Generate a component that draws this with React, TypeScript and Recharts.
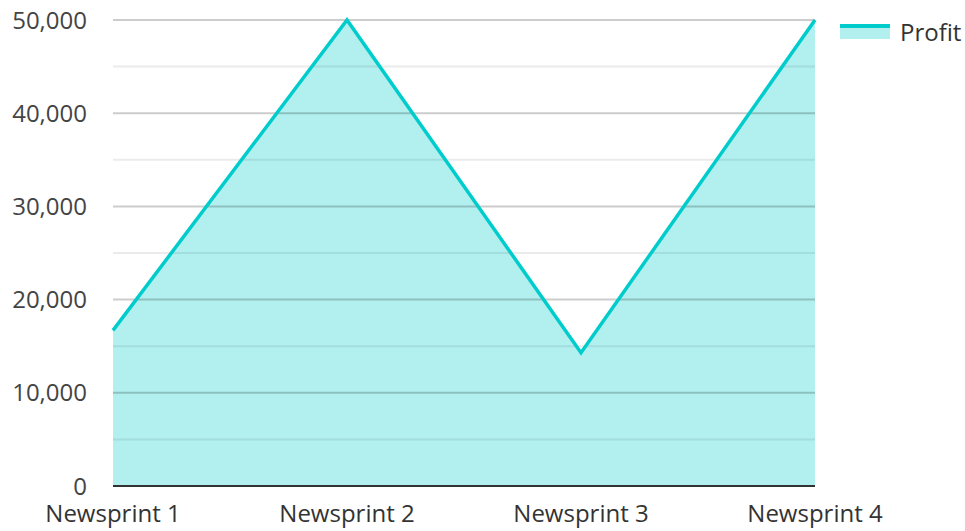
import { ComposedChart, Area, Line, XAxis, YAxis, ReferenceLine, Legend } from "recharts";

const categories = ["Newsprint 1", "Newsprint 2", "Newsprint 3", "Newsprint 4"];
const profit = [16700, 50000, 14300, 50000];
const majorTicks = [0, 10000, 20000, 30000, 40000, 50000];
const minorTicks = [5000, 15000, 25000, 35000, 45000];

const data = categories.map((name, i) => ({ name, profit: profit[i] }));

const color = "#00cccc";
const font = "'Open Sans', 'Noto Sans', sans-serif";

const ProfitLegend = () => (
  <div style={{ display: "flex", alignItems: "center", fontFamily: font, fontSize: 24, color: "#333", whiteSpace: "nowrap" }}>
    <svg width={50} height={16} style={{ marginRight: 10 }}>
      <rect x={0} y={2} width={50} height={13} fill={color} fillOpacity={0.3} />
      <rect x={0} y={0} width={50} height={4} fill={color} />
    </svg>
    <span>Profit</span>
  </div>
);

export default function App() {
  return (
    <div style={{ position: "absolute", left: 0, top: 0, width: 965, height: 531, background: "#fff" }}>
      <ComposedChart width={965} height={531} data={data} margin={{ top: 20, right: 150, bottom: 0, left: 0 }}>
        <XAxis
          dataKey="name"
          height={45}
          tickLine={false}
          tickSize={0}
          tickMargin={19}
          axisLine={{ stroke: "#333", strokeWidth: 2 }}
          tick={{ fill: "#333", fontSize: 24, fontFamily: font }}
          interval={0}
        />
        <YAxis
          width={113}
          domain={[0, 50000]}
          ticks={majorTicks}
          axisLine={false}
          tickLine={false}
          tickSize={0}
          tickMargin={26}
          tick={{ fill: "#444", fontSize: 24, fontFamily: font }}
          tickFormatter={(v: number) => v.toLocaleString("en-US")}
        />
        <Area
          type="linear"
          dataKey="profit"
          stroke="none"
          fill={color}
          fillOpacity={0.3}
          isAnimationActive={false}
          legendType="none"
        />
        {minorTicks.map((v) => (
          <ReferenceLine key={`mn${v}`} y={v} stroke="#000" strokeOpacity={0.08} strokeWidth={2} />
        ))}
        {majorTicks.slice(1).map((v) => (
          <ReferenceLine key={`mj${v}`} y={v} stroke="#000" strokeOpacity={0.2} strokeWidth={2} />
        ))}
        <Line
          type="linear"
          dataKey="profit"
          stroke={color}
          strokeWidth={3.5}
          dot={false}
          activeDot={false}
          isAnimationActive={false}
        />
        <Legend
          layout="horizontal"
          verticalAlign="middle"
          align="center"
          content={() => <ProfitLegend />}
          wrapperStyle={{ top: 15, left: 840, width: "auto", right: "auto" }}
        />
      </ComposedChart>
    </div>
  );
}
